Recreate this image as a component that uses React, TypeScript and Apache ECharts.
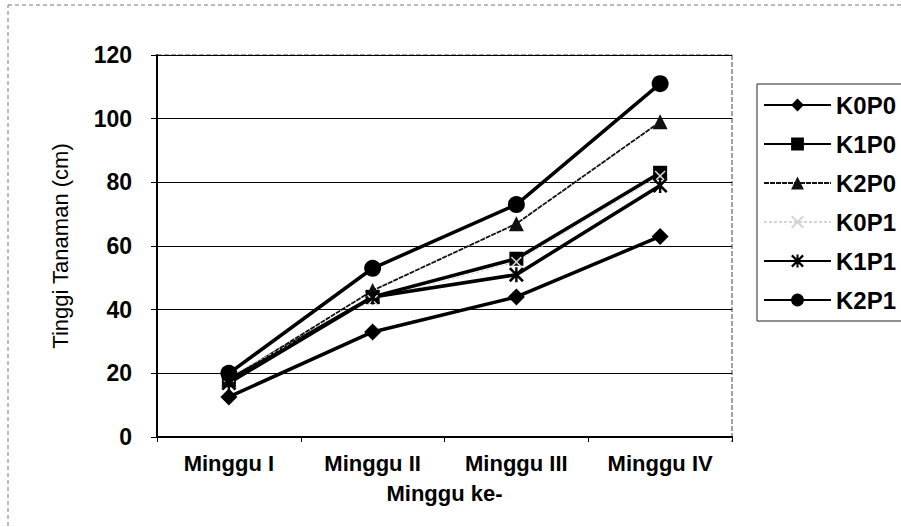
import React, { useEffect, useRef } from "react";
import * as echarts from "echarts";

const categories = ["Minggu I", "Minggu II", "Minggu III", "Minggu IV"];
const seriesNames = ["K0P0", "K1P0", "K2P0", "K0P1", "K1P1", "K2P1"];
const k0p0 = [12.6, 33, 44, 63];
const k1p0 = [18, 44, 56, 83];
const k2p0 = [18, 46, 67, 99];
const k0p1 = [19, 43, 55, 82];
const k1p1 = [17, 44, 51, 79];
const k2p1 = [20, 53, 73, 111];

const starPath =
  "path://M4.2 0 L5.8 0 L5.8 10 L4.2 10 Z M0 1.2 L1.2 0 L10 8.8 L8.8 10 Z M8.8 0 L10 1.2 L1.2 10 L0 8.8 Z";
const xPath = "path://M0 1 L1 0 L10 9 L9 10 Z M9 0 L10 1 L1 10 L0 9 Z";

export default function App() {
  const ref = useRef<HTMLDivElement>(null);
  useEffect(() => {
    if (!ref.current) return;
    const chart = echarts.init(ref.current, null, { renderer: "svg" });
    const font = "'Liberation Sans', Arial, sans-serif";
    const mk = (
      name: string,
      data: number[],
      symbol: string,
      size: number,
      color: string,
      width: number,
      type: any = "solid"
    ) => ({
      name,
      type: "line",
      data,
      symbol,
      symbolSize: size,
      itemStyle: { color },
      lineStyle: { color, width, type },
    });
    chart.setOption({
      animation: false,
      backgroundColor: "#fff",
      textStyle: { fontFamily: font },
      grid: { left: 157, top: 55, right: 169, bottom: 90 },
      legend: {
        orient: "vertical",
        left: 757,
        top: 84,
        padding: [9, 40, 9, 6],
        itemWidth: 67,
        itemHeight: 16,
        itemGap: 15,
        borderColor: "#222",
        borderWidth: 1,
        textStyle: {
          fontSize: 24,
          lineHeight: 24,
          fontWeight: "bold",
          color: "#000",
          fontFamily: font,
        },
        data: seriesNames,
      },
      xAxis: {
        type: "category",
        data: categories,
        boundaryGap: true,
        axisLine: { lineStyle: { color: "#000", width: 2 } },
        axisTick: { show: true, length: 5, lineStyle: { color: "#000" } },
        axisLabel: { fontSize: 22, fontWeight: "bold", color: "#000", margin: 15, interval: 0 },
        name: "Minggu ke-",
        nameLocation: "middle",
        nameGap: 45,
        nameTextStyle: { fontSize: 22, fontWeight: "bold", color: "#000" },
      },
      yAxis: {
        type: "value",
        min: 0,
        max: 120,
        interval: 20,
        axisLine: { show: true, lineStyle: { color: "#000", width: 2 } },
        axisTick: { show: true, length: 6, lineStyle: { color: "#000" } },
        axisLabel: { fontSize: 23, fontWeight: "bold", color: "#000", margin: 25 },
        splitLine: { lineStyle: { color: "#000", width: 1 } },
        name: "Tinggi Tanaman (cm)",
        nameLocation: "middle",
        nameGap: 86,
        nameTextStyle: { fontSize: 22, color: "#000" },
      },
      graphic: [
        {
          type: "rect",
          shape: { x: 8, y: 5, width: 900, height: 540 },
          style: { fill: "none", stroke: "#777", lineWidth: 1, lineDash: [4, 3] },
          silent: true,
        },
        {
          type: "line",
          shape: { x1: 157, y1: 55, x2: 732, y2: 55 },
          style: { stroke: "#444", lineWidth: 1, lineDash: [5, 2] },
          silent: true,
        },
        {
          type: "line",
          shape: { x1: 732, y1: 55, x2: 732, y2: 442 },
          style: { stroke: "#444", lineWidth: 1, lineDash: [5, 2] },
          silent: true,
        },
      ],
      series: [
        mk("K0P0", k0p0, "diamond", 17, "#000", 3.5),
        mk("K1P0", k1p0, "rect", 14, "#000", 3.5),
        mk("K2P0", k2p0, "triangle", 15, "#111", 1.8, [5, 1]),
        mk("K0P1", k0p1, xPath, 11, "#d4d4d4", 1, [3, 2]),
        mk("K1P1", k1p1, starPath, 15, "#000", 3.5),
        mk("K2P1", k2p1, "circle", 17, "#000", 3.5),
      ],
    });
    return () => chart.dispose();
  }, []);
  return (
    <div
      ref={ref}
      style={{ position: "fixed", left: 0, top: 0, width: 901, height: 527 }}
    />
  );
}
